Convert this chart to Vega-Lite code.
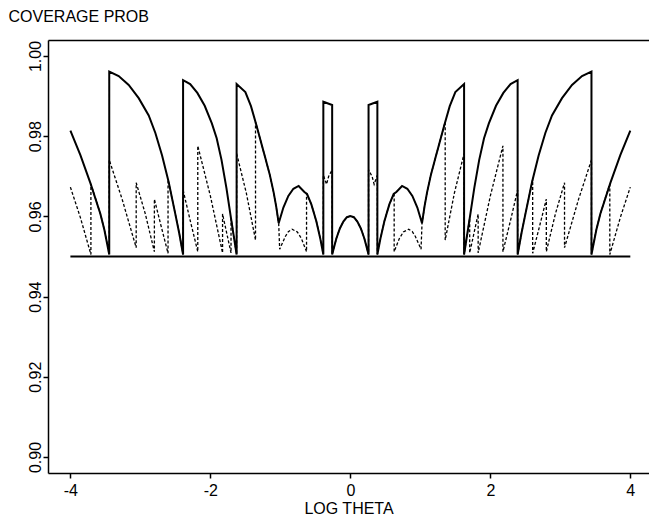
{
  "$schema": "https://vega.github.io/schema/vega-lite/v6.json",
  "width": 601,
  "height": 433,
  "autosize": {"type": "none"},
  "padding": {"left": 48, "top": 40, "right": 0, "bottom": 48},
  "background": "white",
  "config": {
    "view": {"stroke": null},
    "font": "Liberation Sans",
    "axis": {
      "domainColor": "black", "domainWidth": 1.5,
      "tickColor": "black", "tickWidth": 1.5, "tickSize": 5,
      "labelColor": "black", "labelFont": "Liberation Sans", "labelFontSize": 16,
      "titleColor": "black", "titleFont": "Liberation Sans", "titleFontSize": 16, "titleFontWeight": "normal",
      "grid": false
    }
  },
  "datasets": {
    "ref": [{"x": -4, "y": 0.95}, {"x": 4, "y": 0.95}],
    "solid": [
      {"x":-4.0,"y":0.9814},{"x":-3.857,"y":0.9753},{"x":-3.714,"y":0.9683},{"x":-3.571,"y":0.9606},{"x":-3.514,"y":0.9566},{"x":-3.445,"y":0.9505},
      {"x":-3.445,"y":0.9961},{"x":-3.31,"y":0.995},{"x":-3.167,"y":0.9928},{"x":-3.024,"y":0.9895},{"x":-2.881,"y":0.9852},{"x":-2.786,"y":0.9808},{"x":-2.69,"y":0.9752},{"x":-2.596,"y":0.9686},{"x":-2.5,"y":0.9605},{"x":-2.445,"y":0.9558},{"x":-2.39,"y":0.9505},
      {"x":-2.39,"y":0.994},{"x":-2.289,"y":0.993},{"x":-2.186,"y":0.9908},{"x":-2.081,"y":0.9876},{"x":-1.979,"y":0.9832},{"x":-1.91,"y":0.9795},{"x":-1.841,"y":0.9741},{"x":-1.771,"y":0.9671},{"x":-1.705,"y":0.9595},{"x":-1.625,"y":0.9505},
      {"x":-1.625,"y":0.993},{"x":-1.5,"y":0.991},{"x":-1.42,"y":0.9875},{"x":-1.343,"y":0.9828},{"x":-1.214,"y":0.9745},{"x":-1.15,"y":0.9703},{"x":-1.096,"y":0.966},{"x":-1.06,"y":0.9625},{"x":-1.024,"y":0.9583},
      {"x":-0.957,"y":0.9622},{"x":-0.886,"y":0.9651},{"x":-0.814,"y":0.9669},{"x":-0.739,"y":0.9676},{"x":-0.657,"y":0.9661},{"x":-0.619,"y":0.9656},{"x":-0.557,"y":0.963},{"x":-0.486,"y":0.9588},{"x":-0.429,"y":0.9544},{"x":-0.386,"y":0.9505},
      {"x":-0.386,"y":0.9886},{"x":-0.26,"y":0.9878},{"x":-0.26,"y":0.9505},
      {"x":-0.2,"y":0.9545},{"x":-0.15,"y":0.957},{"x":-0.1,"y":0.9587},{"x":-0.05,"y":0.9598},{"x":0,"y":0.9601},
      {"x":0.05,"y":0.9598},{"x":0.1,"y":0.9587},{"x":0.15,"y":0.957},{"x":0.2,"y":0.9545},{"x":0.26,"y":0.9505},
      {"x":0.26,"y":0.9878},{"x":0.386,"y":0.9886},{"x":0.386,"y":0.9505},
      {"x":0.429,"y":0.9544},{"x":0.486,"y":0.9588},{"x":0.557,"y":0.963},{"x":0.619,"y":0.9656},{"x":0.657,"y":0.9661},{"x":0.739,"y":0.9676},{"x":0.814,"y":0.9669},{"x":0.886,"y":0.9651},{"x":0.957,"y":0.9622},{"x":1.024,"y":0.9583},
      {"x":1.06,"y":0.9625},{"x":1.096,"y":0.966},{"x":1.15,"y":0.9703},{"x":1.214,"y":0.9745},{"x":1.343,"y":0.9828},{"x":1.42,"y":0.9875},{"x":1.5,"y":0.991},{"x":1.625,"y":0.993},
      {"x":1.625,"y":0.9505},{"x":1.705,"y":0.9595},{"x":1.771,"y":0.9671},{"x":1.841,"y":0.9741},{"x":1.91,"y":0.9795},{"x":1.979,"y":0.9832},{"x":2.081,"y":0.9876},{"x":2.186,"y":0.9908},{"x":2.289,"y":0.993},{"x":2.39,"y":0.994},
      {"x":2.39,"y":0.9505},{"x":2.445,"y":0.9558},{"x":2.5,"y":0.9605},{"x":2.596,"y":0.9686},{"x":2.69,"y":0.9752},{"x":2.786,"y":0.9808},{"x":2.881,"y":0.9852},{"x":3.024,"y":0.9895},{"x":3.167,"y":0.9928},{"x":3.31,"y":0.995},{"x":3.445,"y":0.9961},
      {"x":3.445,"y":0.9505},{"x":3.514,"y":0.9566},{"x":3.571,"y":0.9606},{"x":3.714,"y":0.9683},{"x":3.857,"y":0.9753},{"x":4.0,"y":0.9814}
    ],
    "dashed": [
      {"x":-4.0,"y":0.9673},{"x":-3.857,"y":0.9597},{"x":-3.707,"y":0.9505},{"x":-3.707,"y":0.9681},{"x":-3.571,"y":0.9606},{"x":-3.514,"y":0.9566},{"x":-3.445,"y":0.9505},
      {"x":-3.445,"y":0.9741},{"x":-3.261,"y":0.9643},{"x":-3.06,"y":0.9522},{"x":-3.06,"y":0.9684},{"x":-2.929,"y":0.9606},{"x":-2.8,"y":0.9512},{"x":-2.8,"y":0.9643},{"x":-2.707,"y":0.9578},{"x":-2.605,"y":0.9508},{"x":-2.605,"y":0.9692},{"x":-2.5,"y":0.9605},{"x":-2.445,"y":0.9558},{"x":-2.39,"y":0.9505},
      {"x":-2.39,"y":0.9666},{"x":-2.29,"y":0.9591},{"x":-2.18,"y":0.9512},{"x":-2.18,"y":0.9776},{"x":-2.0,"y":0.9651},{"x":-1.826,"y":0.9509},{"x":-1.826,"y":0.9606},{"x":-1.705,"y":0.9509},{"x":-1.705,"y":0.9595},{"x":-1.625,"y":0.9505},
      {"x":-1.625,"y":0.9757},{"x":-1.486,"y":0.9658},{"x":-1.355,"y":0.9541},{"x":-1.355,"y":0.9835},{"x":-1.343,"y":0.9828},{"x":-1.214,"y":0.9745},{"x":-1.15,"y":0.9703},{"x":-1.096,"y":0.966},{"x":-1.06,"y":0.9625},{"x":-1.024,"y":0.9583},
      {"x":-1.01,"y":0.9518},{"x":-0.929,"y":0.955},{"x":-0.886,"y":0.9562},{"x":-0.833,"y":0.9568},{"x":-0.757,"y":0.9561},{"x":-0.7,"y":0.9545},{"x":-0.626,"y":0.9512},{"x":-0.626,"y":0.9657},{"x":-0.557,"y":0.963},{"x":-0.486,"y":0.9588},{"x":-0.429,"y":0.9544},{"x":-0.386,"y":0.9505},
      {"x":-0.386,"y":0.9703},{"x":-0.34,"y":0.968},{"x":-0.31,"y":0.97},{"x":-0.26,"y":0.9716},{"x":-0.26,"y":0.9505},
      {"x":-0.2,"y":0.9545},{"x":-0.15,"y":0.957},{"x":-0.1,"y":0.9587},{"x":-0.05,"y":0.9598},{"x":0,"y":0.9601},
      {"x":0.05,"y":0.9598},{"x":0.1,"y":0.9587},{"x":0.15,"y":0.957},{"x":0.2,"y":0.9545},{"x":0.26,"y":0.9505},
      {"x":0.26,"y":0.9716},{"x":0.31,"y":0.97},{"x":0.34,"y":0.968},{"x":0.386,"y":0.9703},{"x":0.386,"y":0.9505},
      {"x":0.429,"y":0.9544},{"x":0.486,"y":0.9588},{"x":0.557,"y":0.963},{"x":0.626,"y":0.9657},{"x":0.626,"y":0.9512},{"x":0.7,"y":0.9545},{"x":0.757,"y":0.9561},{"x":0.833,"y":0.9568},{"x":0.886,"y":0.9562},{"x":0.929,"y":0.955},{"x":1.01,"y":0.9518},
      {"x":1.024,"y":0.9583},{"x":1.06,"y":0.9625},{"x":1.096,"y":0.966},{"x":1.15,"y":0.9703},{"x":1.214,"y":0.9745},{"x":1.343,"y":0.9828},{"x":1.355,"y":0.9835},{"x":1.355,"y":0.9541},{"x":1.486,"y":0.9658},{"x":1.625,"y":0.9757},
      {"x":1.625,"y":0.9505},{"x":1.705,"y":0.9595},{"x":1.705,"y":0.9509},{"x":1.826,"y":0.9606},{"x":1.826,"y":0.9509},{"x":2.0,"y":0.9651},{"x":2.18,"y":0.9776},{"x":2.18,"y":0.9512},{"x":2.29,"y":0.9591},{"x":2.39,"y":0.9666},
      {"x":2.39,"y":0.9505},{"x":2.445,"y":0.9558},{"x":2.5,"y":0.9605},{"x":2.605,"y":0.9692},{"x":2.605,"y":0.9508},{"x":2.707,"y":0.9578},{"x":2.8,"y":0.9643},{"x":2.8,"y":0.9512},{"x":2.929,"y":0.9606},{"x":3.06,"y":0.9684},{"x":3.06,"y":0.9522},{"x":3.261,"y":0.9643},{"x":3.445,"y":0.9741},
      {"x":3.445,"y":0.9505},{"x":3.514,"y":0.9566},{"x":3.571,"y":0.9606},{"x":3.707,"y":0.9681},{"x":3.707,"y":0.9505},{"x":3.857,"y":0.9597},{"x":4.0,"y":0.9673}
    ]
  },
  "encoding": {
    "y": {
      "field": "y", "type": "quantitative",
      "scale": {"domain": [0.896, 1.004], "nice": false, "zero": false},
      "axis": {
        "values": [0.9, 0.92, 0.94, 0.96, 0.98, 1.0], "format": ".2f",
        "labelAngle": -90, "labelAlign": "center", "labelBaseline": "alphabetic", "labelPadding": 3, "labelFlush": false,
        "title": "COVERAGE PROB", "titleAngle": 0, "titleAlign": "left", "titleBaseline": "alphabetic",
        "titleX": -40, "titleY": -18.3
      }
    }
  },
  "layer": [
    {
      "data": {"name": "ref"},
      "mark": {"type": "line", "stroke": "black", "strokeWidth": 2},
      "encoding": {
        "x": {"field": "x", "type": "quantitative", "scale": {"domain": [-4.32, 4.267], "nice": false, "zero": false},
              "axis": {"orient": "top", "labels": false, "ticks": false, "title": null, "domain": true}}
      }
    },
    {
      "data": {"name": "dashed"},
      "mark": {"type": "line", "stroke": "black", "strokeWidth": 1.3, "strokeDash": [3, 2]},
      "encoding": {
        "x": {"field": "x", "type": "quantitative", "scale": {"domain": [-4.32, 4.267], "nice": false, "zero": false},
              "axis": {"orient": "bottom", "values": [-4, -2, 0, 2, 4], "labelExpr": "'' + datum.value", "labelPadding": 4, "labelBaseline": "top", "labelFlush": false,
                       "title": "LOG THETA", "titleBaseline": "alphabetic", "titleY": 40.5}},
        "order": {"value": null}
      }
    },
    {
      "data": {"name": "solid"},
      "mark": {"type": "line", "stroke": "black", "strokeWidth": 2},
      "encoding": {
        "x": {"field": "x", "type": "quantitative", "scale": {"domain": [-4.32, 4.267], "nice": false, "zero": false}, "axis": null},
        "order": {"value": null}
      }
    }
  ],
  "resolve": {"axis": {"x": "independent"}}
}
